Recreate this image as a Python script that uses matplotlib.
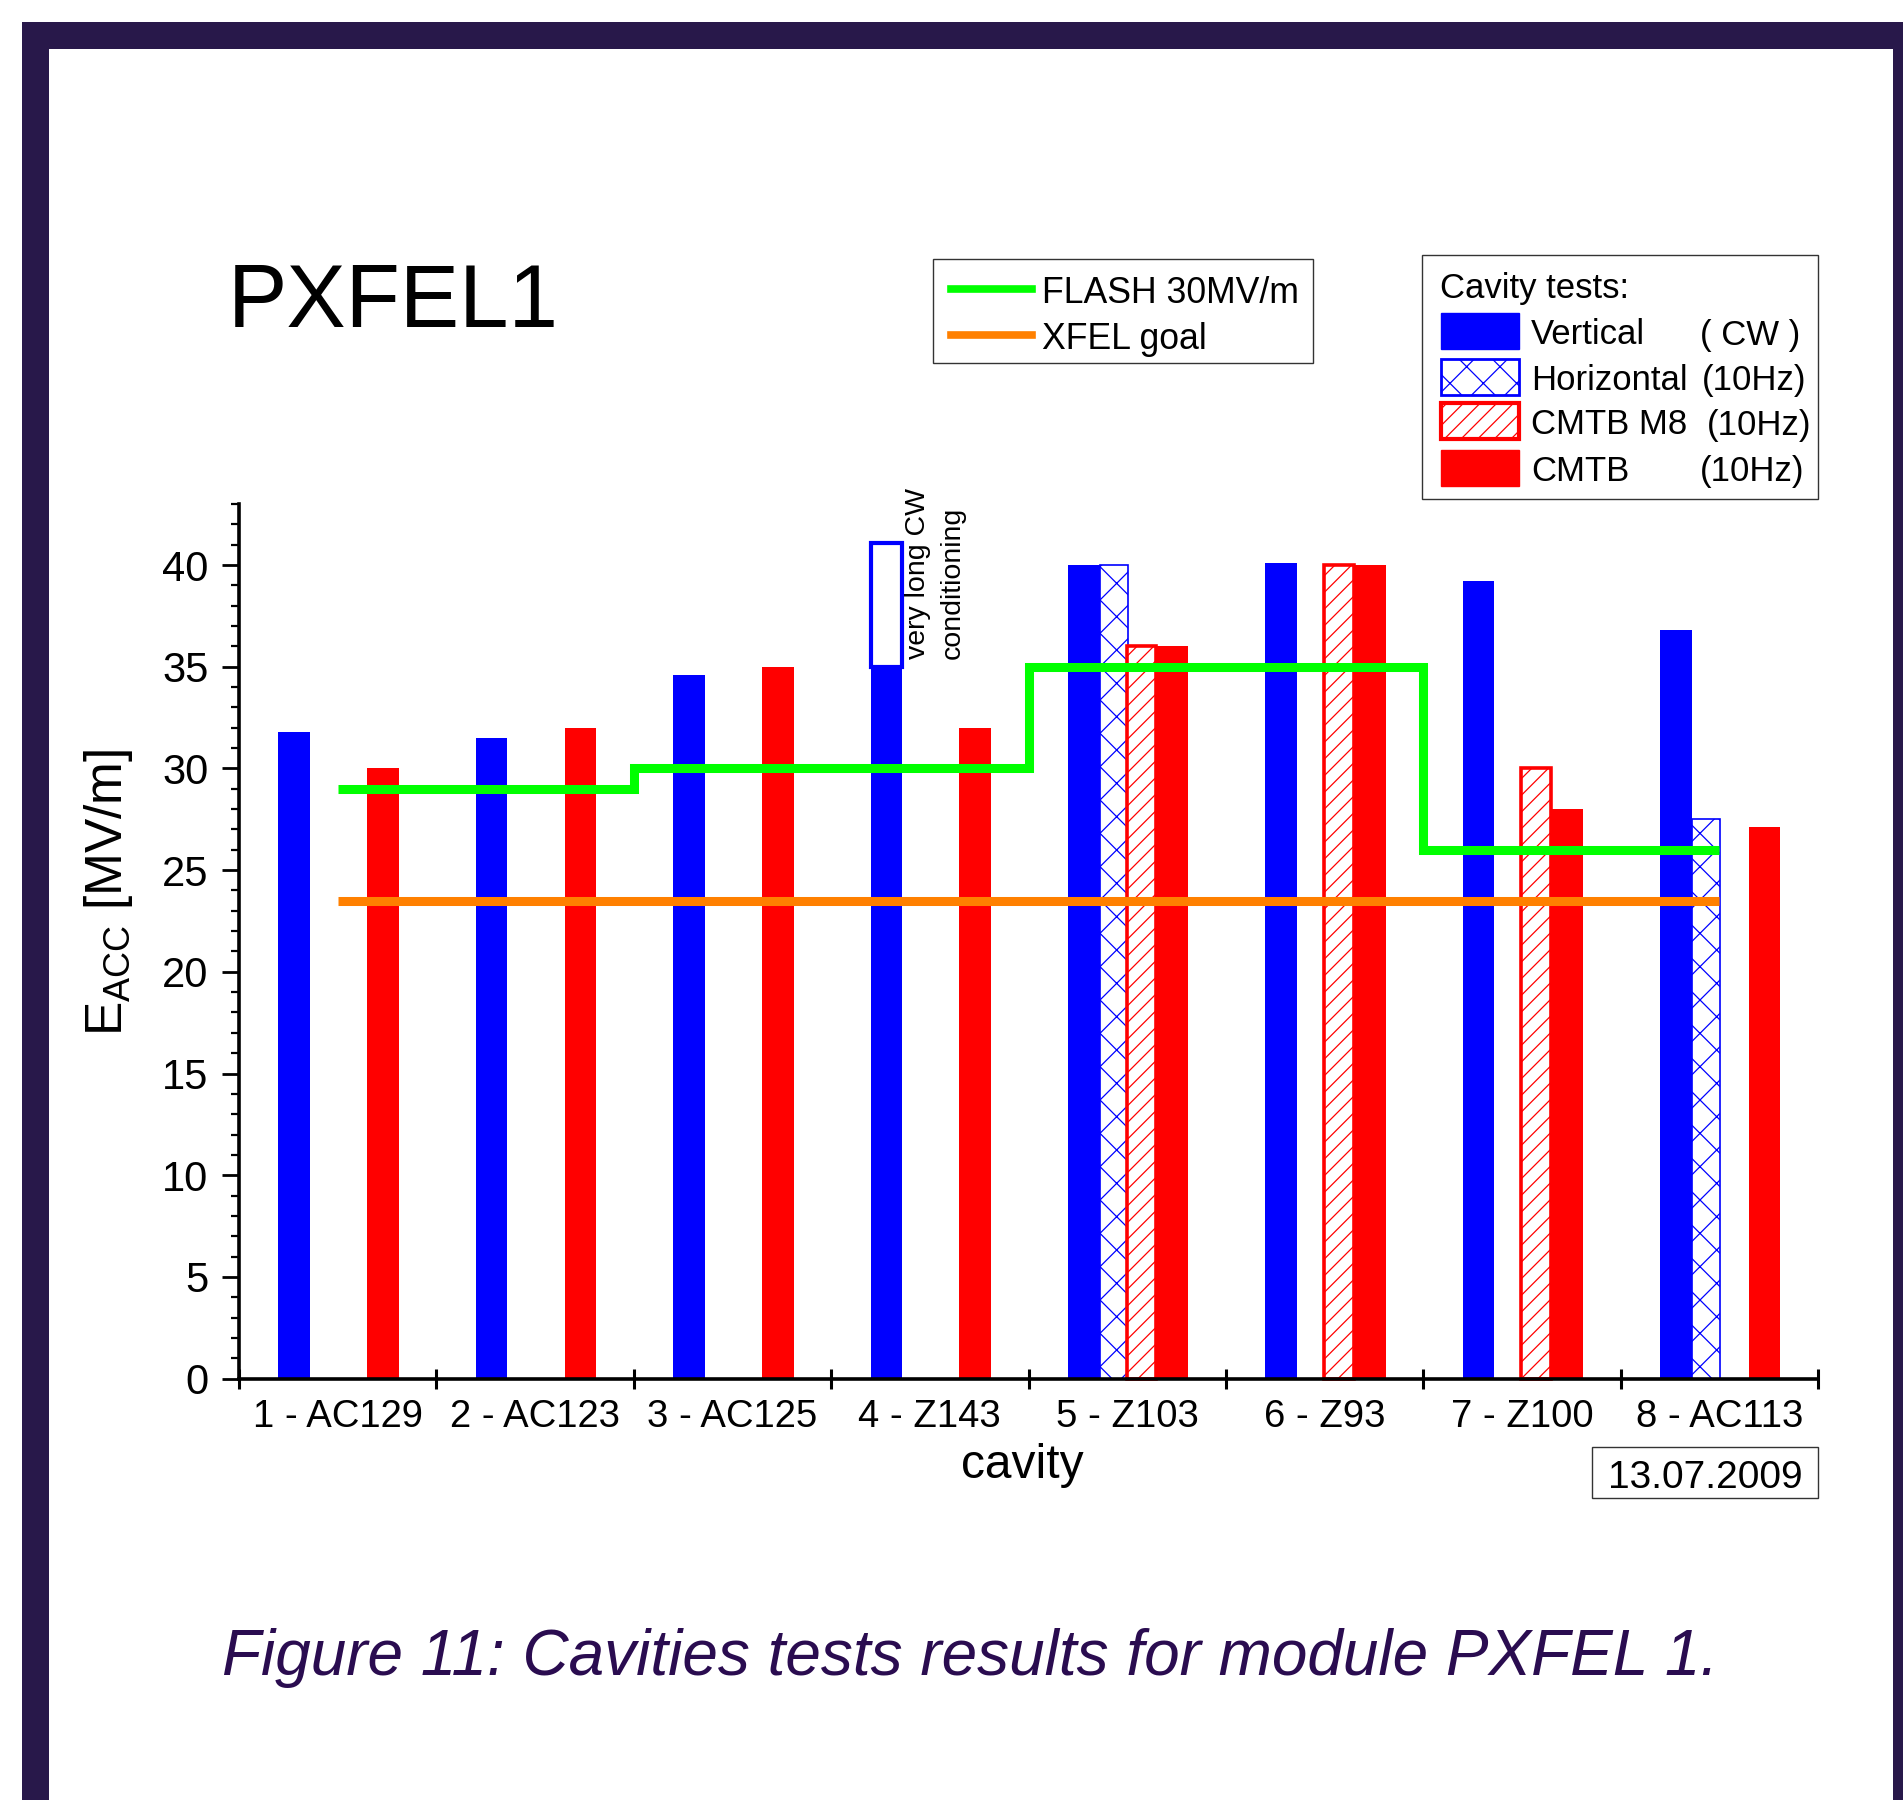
import numpy as np
import matplotlib
matplotlib.use("Agg")
import matplotlib.pyplot as plt
from matplotlib.patches import Rectangle
from matplotlib.lines import Line2D
from matplotlib.ticker import MultipleLocator

# cavity test results, E_acc in MV/m
cavities = ['1 - AC129', '2 - AC123', '3 - AC125', '4 - Z143',
            '5 - Z103', '6 - Z93', '7 - Z100', '8 - AC113']
vertical = [31.8, 31.5, 34.6, 35.0, 40.0, 40.1, 39.2, 36.8]
horizontal = [np.nan, np.nan, np.nan, np.nan, 40.0, np.nan, np.nan, 27.5]
cmtb_m8 = [np.nan, np.nan, np.nan, np.nan, 36.0, 40.0, 30.0, np.nan]
cmtb = [30.0, 32.0, 35.0, 32.0, 36.0, 40.0, 28.0, 27.1]

# cavity 4: vertical result after very long CW conditioning
cw_long_idx = 3
cw_long_top = 41.1

# FLASH operating limits (step line) and XFEL goal
flash_edges = [0.5, 2, 4, 6, 7.5]
flash_vals = [29, 30, 35, 26]
xfel_goal = 23.5
xfel_span = [0.5, 7.5]

BLUE = '#0000ff'
RED = '#ff0000'
GREEN = '#00ff00'
ORANGE = '#ff8000'
FRAME = '#28184a'
CAPTION = '#2a0c50'

plt.rcParams['font.family'] = ['Liberation Sans', 'DejaVu Sans']
plt.rcParams['hatch.linewidth'] = 0.9

W, H = 1903, 1800
fig = plt.figure(figsize=(W / 100, H / 100), dpi=100)
fig.patch.set_facecolor('white')


def fx(x):
    return x / W


def fy(y):
    return 1 - y / H


# page frame
fig.patches.append(Rectangle((fx(22), 0), 1 - fx(22), fy(22), transform=fig.transFigure,
                             facecolor=FRAME, edgecolor='none', zorder=-10))
fig.patches.append(Rectangle((fx(49), 0), fx(1893) - fx(49), fy(49), transform=fig.transFigure,
                             facecolor='white', edgecolor='none', zorder=-9))

ax = fig.add_axes([fx(239), fy(1378.6), fx(1818) - fx(239), fy(504) - fy(1378.6)])
ax.set_facecolor('none')

x = np.arange(len(cavities))
ax.bar(x + 0.20, vertical, width=0.16, align='edge', color=BLUE, edgecolor='none')
ax.bar(x + 0.36, horizontal, width=0.145, align='edge', facecolor='white',
       edgecolor=BLUE, hatch='x', linewidth=1.2)
ax.bar(x + 0.497, cmtb_m8, width=0.15, align='edge', facecolor='white',
       edgecolor=RED, hatch='//', linewidth=2.6, clip_on=False)
ax.bar(x + 0.65, cmtb, width=0.16, align='edge', color=RED, edgecolor='none')

# open box for the long CW conditioning result
ax.bar(cw_long_idx + 0.2, cw_long_top - vertical[cw_long_idx], bottom=vertical[cw_long_idx],
       width=0.16, align='edge', facecolor='white', edgecolor=BLUE, linewidth=3)
ax.text(cw_long_idx + 0.375, vertical[cw_long_idx] + 0.4, 'very long CW\nconditioning',
        rotation=90, ha='left', va='bottom', multialignment='left',
        fontsize=20.5, linespacing=1.45)

ax.stairs(flash_vals, flash_edges, baseline=None, color=GREEN, linewidth=6.5, zorder=3)
ax.hlines(xfel_goal, xfel_span[0], xfel_span[1], color=ORANGE, linewidth=6.5, zorder=3)

ax.set_xlim(0, 8)
ax.set_ylim(0, 43)
for s in ['top', 'right']:
    ax.spines[s].set_visible(False)
for s in ['left', 'bottom']:
    ax.spines[s].set_linewidth(2.6)
    ax.spines[s].set_zorder(5)

ax.set_xticks(np.arange(9))
ax.set_xticklabels([])
ax.set_xticks(x + 0.5, minor=True)
ax.set_xticklabels(cavities, minor=True)
ax.tick_params(axis='x', which='major', direction='inout', length=14, width=2.2)
ax.tick_params(axis='x', which='minor', length=0, pad=15, labelsize=27.5)

ax.set_yticks(np.arange(0, 41, 5))
ax.yaxis.set_minor_locator(MultipleLocator(1))
ax.tick_params(axis='y', which='major', direction='out', length=12, width=2, labelsize=30, pad=10)
ax.tick_params(axis='y', which='minor', direction='out', length=6, width=1.6)

# axis labels
fig.text(fx(122), fy(892), 'E$_{\\mathregular{ACC}}$ [MV/m]', rotation=90, rotation_mode='anchor',
         ha='center', va='baseline', fontsize=37)
fig.text(fx(1022), fy(1478), 'cavity', ha='center', va='baseline', fontsize=34.5)

fig.text(fx(228), fy(327), 'PXFEL1', ha='left', va='baseline', fontsize=64)

# date box
fig.patches.append(Rectangle((fx(1592), fy(1498)), fx(1818) - fx(1592), fy(1447) - fy(1498),
                             transform=fig.transFigure, facecolor='white', edgecolor='#333333', lw=1))
fig.text(fx(1705), fy(1488), '13.07.2009', ha='center', va='baseline', fontsize=28)

# legend 1: reference lines
fig.patches.append(Rectangle((fx(933), fy(363)), fx(1313) - fx(933), fy(258.5) - fy(363),
                             transform=fig.transFigure, facecolor='white', edgecolor='#333333', lw=1))
for yy, col, lab in [(289, GREEN, 'FLASH 30MV/m'), (335, ORANGE, 'XFEL goal')]:
    fig.add_artist(Line2D([fx(951), fx(1032)], [fy(yy), fy(yy)], transform=fig.transFigure,
                          color=col, linewidth=5.5))
    fig.text(fx(1042), fy(yy + 14), lab, ha='left', va='baseline', fontsize=25.7)

# legend 2: cavity tests
fig.patches.append(Rectangle((fx(1421.7), fy(499)), fx(1818) - fx(1421.7), fy(255) - fy(499),
                             transform=fig.transFigure, facecolor='white', edgecolor='#333333', lw=1))
fig.text(fx(1440), fy(298), 'Cavity tests:', ha='left', va='baseline', fontsize=25)
leg_rows = [
    (331, 'Vertical', '( CW )', 1700, dict(facecolor=BLUE, edgecolor=BLUE, lw=1)),
    (376.5, 'Horizontal', '(10Hz)', 1702, dict(facecolor='white', edgecolor=BLUE, hatch='x', lw=2)),
    (421, 'CMTB M8', '(10Hz)', 1707, dict(facecolor='white', edgecolor=RED, hatch='//', lw=3)),
    (467.5, 'CMTB', '(10Hz)', 1700, dict(facecolor=RED, edgecolor=RED, lw=1)),
]
for yc, name, mode, mx, style in leg_rows:
    fig.patches.append(Rectangle((fx(1441), fy(yc + 18)), fx(1519) - fx(1441), fy(yc - 18) - fy(yc + 18),
                                 transform=fig.transFigure, **style))
    fig.text(fx(1531), fy(yc + 13.5), name, ha='left', va='baseline', fontsize=25)
    fig.text(fx(mx), fy(yc + 13.5), mode, ha='left', va='baseline', fontsize=25)

fig.text(fx(222), fy(1675), 'Figure 11: Cavities tests results for module PXFEL 1.',
         ha='left', va='baseline', fontsize=46, style='italic', color=CAPTION)

fig.savefig('out.png', dpi=100)
